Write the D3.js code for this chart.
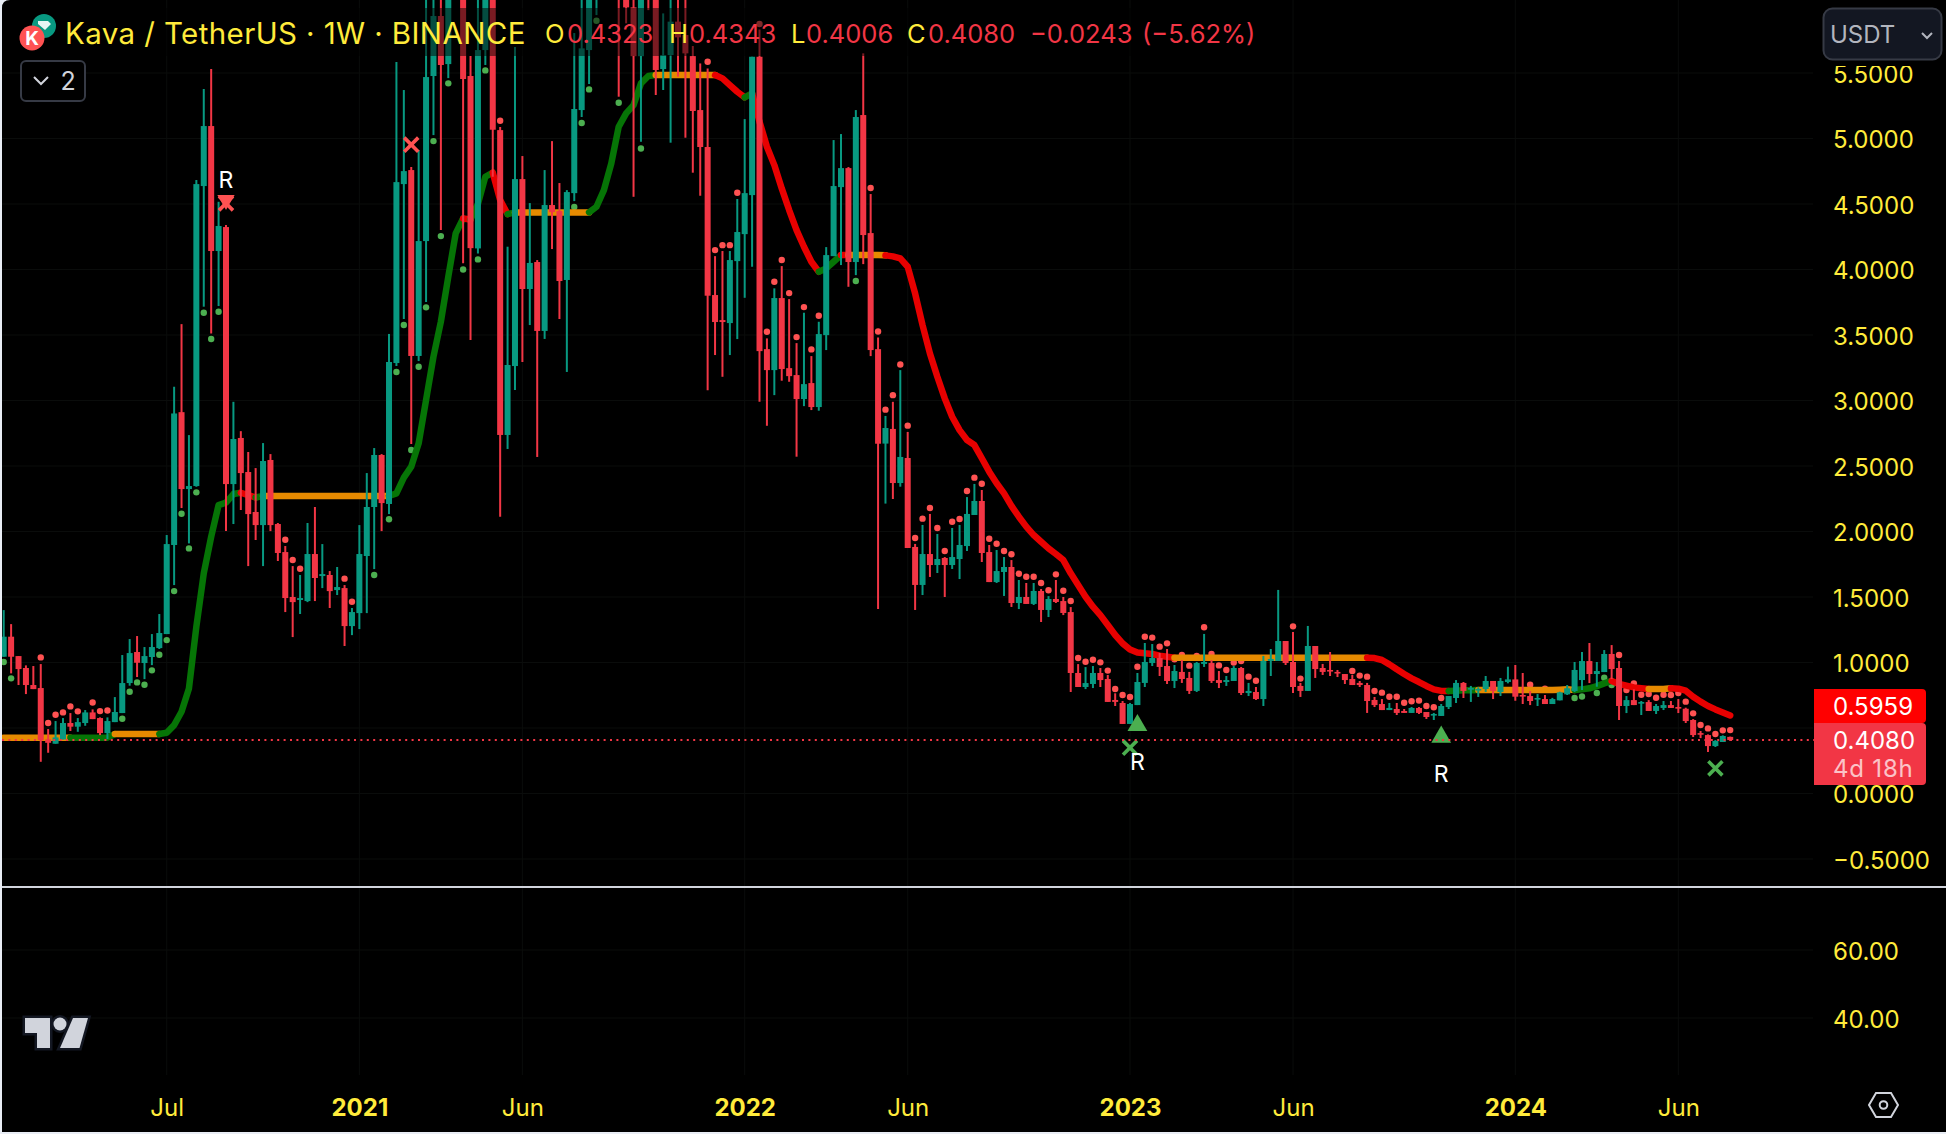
<!DOCTYPE html>
<html><head><meta charset="utf-8">
<style>html,body{margin:0;padding:0;background:#e9edf5;overflow:hidden}svg{display:block}text{font-family:Inter,Roboto,sans-serif}</style>
<script src="https://cdn.jsdelivr.net/npm/d3@7/dist/d3.min.js"></script>
</head><body><svg id="c" width="1946" height="1134"></svg>
<script>
const opens=[1.044,1.197,1.049,.958,.828,.805,.413,.380,.413,.538,
.510,.538,.619,.576,.461,.545,.614,.843,1.080,.996,
1.042,1.110,1.217,1.897,2.911,2.324,2.347,4.637,5.095,4.141,
4.324,2.362,2.714,2.454,2.149,2.049,2.546,2.057,1.843,1.500,
1.477,1.469,1.828,1.660,1.668,1.553,1.568,1.278,1.377,1.813,
2.187,2.584,2.210,3.286,4.652,4.759,3.340,4.217,5.477,5.935,
5.568,6.500,6.300,5.477,4.161,5.675,6.300,5.064,2.737,3.263,
4.690,3.851,4.057,3.531,4.492,4.446,3.920,4.583,5.217,5.675,
6.200,6.600,6.900,6.800,6.400,6.001,5.629,6.500,6.100,5.530,
5.637,5.892,5.790,5.629,5.217,4.935,3.805,3.614,3.591,4.064,
4.270,4.568,5.624,3.392,3.232,3.782,3.247,3.194,3.011,3.133,
2.950,3.499,4.102,4.629,4.774,4.057,5.179,4.278,3.392,2.671,
2.783,2.370,2.561,1.882,1.592,1.828,1.744,1.798,1.744,1.790,
1.889,2.126,2.233,1.843,1.614,1.691,1.729,1.454,1.500,1.447,
1.546,1.401,1.485,1.469,1.385,.920,.813,.836,.920,.874,
.714,.691,.531,.675,.844,.996,1.034,.973,.859,.928,
.882,.783,.989,.996,.866,.851,.859,.958,.767,.775,
.721,1.012,1.012,1.164,1.004,.821,.783,1.126,.958,.943,
.928,.912,.874,.844,.828,.714,.683,.637,.645,.630,
.615,.653,.622,.599,.592,.660,.729,.844,.798,.790,
.798,.859,.775,.851,.871,.752,.744,.721,.721,.683,
.711,.757,.782,.866,1.011,.912,.927,1.065,.958,.668,
.713,.691,.698,.630,.653,.675,.660,.647,.561,.461,
.446,.362,.393,.4323];
const highs=[1.400,1.293,1.049,.978,.973,.988,.492,.553,.576,.614,
.576,.637,.642,.581,.581,.736,1.057,1.179,1.202,1.118,
1.217,1.370,1.973,3.105,3.583,2.736,4.683,5.378,5.530,4.517,
4.339,2.990,2.766,2.607,2.484,2.675,2.591,2.065,1.889,1.736,
1.668,2.065,2.187,1.904,1.698,1.729,1.591,1.416,2.049,2.446,
2.637,2.591,3.508,5.584,5.370,4.782,4.912,6.300,6.400,6.300,
6.400,7.300,6.600,5.630,6.300,6.400,6.600,5.087,4.174,5.698,
4.866,4.507,4.072,4.759,4.980,4.660,4.606,5.805,6.200,6.300,
6.800,7.100,7.400,7.200,6.700,6.300,6.200,6.700,6.400,5.955,
6.100,6.100,6.070,5.706,5.573,5.535,4.102,4.141,4.141,4.538,
5.148,5.624,5.833,3.474,3.856,4.026,3.774,3.438,3.670,3.339,
3.601,4.171,4.988,5.034,4.782,5.217,5.650,4.576,3.481,2.882,
2.990,3.232,2.760,1.905,2.050,2.134,1.981,1.805,2.027,2.050,
2.263,2.363,2.317,1.897,1.859,1.805,1.782,1.630,1.607,1.607,
1.561,1.507,1.630,1.500,1.423,.988,.965,.973,.958,.905,
.765,.706,.691,.920,1.149,1.141,1.073,1.103,.981,1.019,
.928,1.004,1.218,1.019,.935,.897,.973,.966,.844,.813,
1.050,1.103,1.554,1.164,1.233,.844,1.279,1.126,.989,1.080,
.943,.912,.905,.859,.844,.737,.721,.691,.691,.645,
.660,.660,.622,.615,.683,.744,.866,.851,.821,.811,
.897,.859,.882,.968,.981,.920,.782,.759,.752,.730,
.777,.828,1.004,1.080,1.149,1.004,1.095,1.133,1.011,.744,
.795,.706,.713,.683,.706,.706,.721,.655,.568,.477,
.451,.408,.444,.4343];
const lows=[1.044,.917,.828,.759,.797,.242,.311,.380,.413,.477,
.471,.517,.568,.446,.415,.545,.614,.823,.889,.873,
.980,1.103,1.217,1.591,2.179,1.909,2.342,3.716,3.512,3.721,
2.003,2.057,2.164,1.736,1.935,1.736,2.003,1.775,1.385,1.194,
1.370,1.461,1.469,1.568,1.416,1.515,1.126,1.209,1.255,1.377,
1.713,2.003,2.133,3.263,3.622,2.668,3.301,3.752,5.026,4.301,
5.461,6.200,4.047,3.462,4.123,5.561,4.708,2.113,2.630,3.080,
3.294,3.576,2.569,3.470,4.156,3.622,3.218,4.522,5.164,5.416,
5.942,6.300,6.500,5.319,5.879,4.555,4.975,5.980,5.332,5.370,
4.968,5.472,5.006,4.739,4.563,3.079,3.347,3.181,3.347,3.469,
3.784,4.021,2.990,2.807,3.041,3.151,3.143,2.571,2.957,2.927,
2.922,3.385,4.102,4.034,3.868,3.957,4.041,3.339,1.408,2.213,
2.248,2.342,1.874,1.401,1.515,1.653,1.683,1.500,1.714,1.637,
1.851,2.126,1.767,1.614,1.607,1.508,1.424,1.408,1.447,1.439,
1.309,1.347,1.454,1.362,.775,.813,.797,.805,.813,.699,
.668,.531,.531,.675,.813,.973,.897,.836,.805,.844,
.760,.775,.966,.844,.805,.821,.859,.752,.744,.714,
.668,.897,1.012,.981,.767,.737,.783,.882,.905,.897,
.889,.836,.828,.813,.615,.660,.637,.637,.599,.615,
.615,.607,.569,.561,.592,.645,.691,.729,.699,.737,
.775,.721,.744,.841,.708,.683,.675,.668,.683,.683,
.711,.752,.775,.790,.843,.815,.927,.874,.561,.614,
.675,.599,.630,.607,.637,.653,.614,.538,.431,.423,
.317,.355,.393,.4006];
const closes=[1.197,1.044,.950,.828,.797,.408,.387,.428,.538,.510,
.545,.619,.568,.461,.553,.622,.843,1.072,.998,1.049,
1.118,1.225,1.904,2.901,2.324,2.347,4.652,5.095,4.141,4.332,
2.362,2.706,2.446,2.133,2.049,2.538,2.049,1.836,1.492,1.461,
1.492,1.828,1.645,1.675,1.545,1.576,1.278,1.385,1.828,2.187,
2.584,2.217,3.294,4.667,4.751,3.340,4.217,5.469,5.935,5.561,
6.200,6.900,5.454,4.163,5.675,6.200,5.067,2.737,3.271,4.690,
3.851,4.050,3.531,4.492,4.438,3.912,4.591,5.225,5.688,6.100,
6.500,6.900,7.100,6.200,6.001,5.629,6.100,6.200,5.523,5.637,
5.892,5.772,5.650,5.210,4.935,3.800,3.599,3.599,4.072,4.286,
4.583,5.624,3.377,3.232,3.782,3.240,3.186,3.011,3.125,2.950,
3.507,4.110,4.637,4.774,4.057,5.164,4.263,3.385,2.670,2.790,
2.370,2.569,1.874,1.592,1.828,1.744,1.790,1.744,1.805,1.897,
2.134,2.233,1.836,1.614,1.698,1.729,1.454,1.500,1.447,1.546,
1.401,1.485,1.462,1.378,.920,.813,.843,.920,.866,.699,
.699,.531,.683,.851,1.004,1.034,.966,.859,.935,.874,
.783,.996,1.004,.859,.844,.866,.958,.767,.783,.721,
1.012,1.027,1.164,.996,.813,.783,1.126,.950,.928,.935,
.920,.866,.828,.828,.706,.675,.637,.653,.615,.615,
.653,.615,.584,.607,.668,.744,.844,.783,.805,.798,
.859,.783,.859,.871,.739,.744,.706,.729,.683,.721,
.772,.803,.943,1.011,.912,.935,1.065,.950,.668,.713,
.675,.698,.630,.668,.675,.653,.653,.553,.446,.454,
.362,.401,.439,.4080];
const trendLine=[.426,.426,.426,.426,.426,.426,.426,.426,.426,.426,
.426,.426,.426,.426,.426,.454,.454,.454,.454,.454,
.454,.454,.464,.522,.624,.802,1.273,1.680,1.960,2.202,
2.220,2.286,2.296,2.278,2.260,2.271,2.271,2.271,2.271,2.271,
2.271,2.271,2.271,2.271,2.271,2.271,2.271,2.271,2.271,2.271,
2.271,2.271,2.271,2.291,2.411,2.495,2.673,3.004,3.335,3.602,
3.945,4.276,4.390,4.382,4.500,4.708,4.739,4.530,4.423,4.436,
4.436,4.436,4.436,4.436,4.436,4.436,4.436,4.436,4.436,4.436,
4.479,4.606,4.810,5.090,5.192,5.255,5.421,5.477,5.484,5.484,
5.484,5.484,5.484,5.484,5.484,5.484,5.484,5.459,5.408,5.357,
5.314,5.345,5.128,4.937,4.797,4.619,4.454,4.301,4.174,4.059,
3.983,4.008,4.059,4.110,4.110,4.110,4.110,4.110,4.110,4.108,
4.100,4.085,4.021,3.817,3.576,3.359,3.181,3.016,2.876,2.774,
2.698,2.660,2.559,2.457,2.368,2.291,2.195,2.113,2.037,1.973,
1.922,1.871,1.828,1.782,1.681,1.592,1.502,1.426,1.362,1.286,
1.210,1.146,1.100,1.077,1.070,1.065,1.052,1.044,1.037,1.037,
1.037,1.037,1.037,1.037,1.037,1.037,1.037,1.037,1.037,1.037,
1.037,1.037,1.037,1.037,1.037,1.037,1.037,1.037,1.037,1.037,
1.037,1.037,1.037,1.037,1.037,1.034,1.019,.986,.948,.912,
.879,.851,.821,.795,.783,.783,.785,.788,.788,.790,
.790,.790,.790,.790,.790,.790,.790,.790,.790,.790,
.792,.795,.790,.795,.803,.820,.841,.859,.836,.823,
.810,.803,.797,.797,.797,.803,.800,.785,.739,.701,
.668,.642,.619,.5959];
const trendRuns=[[0,9,'o'],[9,15,'g'],[15,21,'o'],[21,32,'g'],[32,34,'r'],[34,35,'g'],[35,52,'o'],[52,62,'g'],[62,63,'r'],[63,66,'g'],[66,68,'r'],[68,69,'g'],[69,79,'o'],[79,88,'g'],[88,96,'o'],[96,100,'r'],[100,101,'g'],[101,110,'r'],[110,113,'g'],[113,114,'r'],[114,119,'o'],[119,158,'r'],[158,184,'o'],[184,195,'r'],[195,199,'g'],[199,212,'o'],[212,217,'g'],[217,222,'r'],[222,225,'o'],[225,233,'r']];
const redDots=[[5,1.039],[6,.538],[7,.601],[8,.619],[9,.665],[10,.627],[12,.695],[13,.629],[14,.634],[38,1.937],[39,1.782],[40,1.716],[46,1.640],[47,1.464],[67,5.136],[95,5.586],[96,4.148],[97,4.186],[98,4.186],[99,4.586],[102,5.874],[103,3.525],[104,3.907],[105,4.072],[106,3.820],[107,3.484],[108,3.713],[109,3.390],[110,3.647],[117,4.622],[118,3.527],[119,2.930],[120,3.041],[121,3.275],[122,2.808],[123,1.950],[124,2.098],[125,2.179],[126,2.027],[127,1.851],[128,2.075],[129,2.095],[130,2.309],[131,2.411],[132,2.365],[133,1.945],[134,1.907],[135,1.851],[136,1.826],[137,1.678],[138,1.655],[139,1.655],[140,1.607],[141,1.551],[142,1.673],[143,1.548],[144,1.469],[145,1.034],[146,1.006],[147,1.021],[148,1.001],[149,.938],[150,.798],[151,.752],[152,.737],[153,.968],[154,1.197],[155,1.190],[156,1.121],[157,1.146],[158,1.024],[159,1.057],[160,.976],[161,1.050],[162,1.269],[163,1.065],[164,.978],[165,.943],[166,1.000],[167,1.011],[168,.892],[169,.861],[174,1.276],[175,.877],[182,.935],[183,.900],[184,.892],[185,.782],[186,.770],[187,.739],[188,.739],[189,.693],[190,.704],[191,.709],[192,.668],[193,.658],[194,.729],[206,.831],[208,.800],[218,1.057],[219,.790],[220,.841],[221,.754],[222,.759],[223,.731],[224,.754],[225,.752],[226,.767],[227,.701],[228,.612],[229,.523],[230,.497],[231,.454],[232,.482],[233,.484]];
const greenDots=[[0,1.004],[1,.879],[16,.571],[17,.777],[18,.848],[19,.830],[20,.940],[21,1.059],[22,1.171],[23,1.545],[24,2.136],[25,1.871],[26,2.299],[27,3.670],[28,3.470],[29,3.677],[50,1.668],[52,2.093],[53,3.217],[54,3.576],[55,2.622],[56,3.258],[57,3.711],[58,4.980],[59,4.255],[60,5.421],[62,4.000],[64,4.077],[65,5.520],[77,4.477],[78,5.118],[79,5.375],[80,5.899],[83,5.273],[86,4.924],[115,3.912],[212,.729],[213,.741],[215,.767],[216,.884],[217,.828]];
const crossMarks=[[55,4.953,'#ff5252'],[30,4.505,'#ff5252'],[152,.350,'#4caf50'],[231,.192,'#4caf50']];
const downMarks=[[30,4.530]];
const upMarks=[[153,.520],[194,.431]];
const rLabels=[[30,4.683],[153,.240],[194,.149]];
const priceTicks=[-.5,0,.5,1,1.5,2,2.5,3,3.5,4,4.5,5,5.5];
const priceLabelTicks=[-.5,0,1,1.5,2,2.5,3,3.5,4,4.5,5,5.5];
const rsiTicks=[40,60];
const timeTicks=['2020-07-06','2021-01-04','2021-06-07','2022-01-03','2022-06-06','2023-01-02','2023-06-05','2024-01-01','2024-06-03'];
const timeLabels=['Jul','2021','Jun','2022','Jun','2023','Jun','2024','Jun'];
const legendParts=[['Kava / TetherUS · 1W · BINANCE',65,'#ffeb3b'],['O',545,'#ffeb3b'],['0.4323',567,'#f23645'],['H',669,'#ffeb3b'],['0.4343',689,'#f23645'],['L',791,'#ffeb3b'],['0.4006',806,'#f23645'],['C',907,'#ffeb3b'],['0.4080',928,'#f23645'],['−0.0243',1030,'#f23645'],['(−5.62%)',1142,'#f23645']];
const lastPrice=.4080, trendLast=.5959, countdown='4d 18h';

const svg=d3.select('#c');
const WEEK=7*864e5, START=Date.UTC(2020,1,3);
const dateOf=i=>new Date(START+i*WEEK);
const x=d3.scaleUtc().domain([dateOf(0),dateOf(233)]).range([3.7,1730.2]);
const xi=i=>x(dateOf(i));
const y=d3.scaleLinear().domain([0,5.5]).range([793.5,73]);
const yRsi=d3.scaleLinear().domain([40,60]).range([1018,950]);
const GRID='#0a0c0b',UP='#089981',DOWN='#f23645',YEL='#ffeb3b',AXX=1833;

const defs=svg.append('defs');
defs.append('clipPath').attr('id','main').append('rect').attr('x',2).attr('y',0).attr('width',1811).attr('height',886);
svg.append('path').attr('fill','#000').attr('d','M2 8Q2 0 10 0H1946V1132H2Z');

// grid
const grid=svg.append('g').attr('stroke',GRID).attr('stroke-width',1);
grid.selectAll('.v').data(timeTicks.map(d=>new Date(d+'T00:00Z'))).join('line').attr('x1',d=>x(d)).attr('x2',d=>x(d)).attr('y1',0).attr('y2',1075);
grid.selectAll('.h').data(priceTicks).join('line').attr('x1',2).attr('x2',1813).attr('y1',d=>y(d)).attr('y2',d=>y(d));
grid.selectAll('.r').data(rsiTicks).join('line').attr('x1',2).attr('x2',1813).attr('y1',d=>yRsi(d)).attr('y2',d=>yRsi(d));

const plot=svg.append('g').attr('clip-path','url(#main)');
// dots
plot.append('g').attr('fill','#ff5252').selectAll('circle').data(redDots).join('circle').attr('cx',d=>xi(d[0])).attr('cy',d=>y(d[1])).attr('r',3.2);
plot.append('g').attr('fill','#4caf50').selectAll('circle').data(greenDots).join('circle').attr('cx',d=>xi(d[0])).attr('cy',d=>y(d[1])).attr('r',3.2);
// trend line
const TC={o:'#e68a00',g:'#067506',r:'#e80000'};
const line=d3.line().x(i=>xi(i)).y(i=>y(trendLine[i]));
plot.append('g').attr('fill','none').attr('stroke-width',6.5).attr('stroke-linecap','round').attr('stroke-linejoin','round')
 .selectAll('path').data(trendRuns).join('path').attr('stroke',d=>TC[d[2]]).attr('d',d=>line(d3.range(d[0],d[1]+1)));
// candles
const idx=d3.range(opens.length);
const col=i=>closes[i]>=opens[i]?UP:DOWN;
const cg=plot.append('g');
cg.selectAll('line').data(idx).join('line').attr('x1',xi).attr('x2',xi).attr('y1',i=>y(highs[i])).attr('y2',i=>y(lows[i])).attr('stroke',col).attr('stroke-width',2);
cg.selectAll('rect').data(idx).join('rect').attr('x',i=>xi(i)-3).attr('width',6)
 .attr('y',i=>y(Math.max(opens[i],closes[i]))).attr('height',i=>Math.max(1.6,Math.abs(y(opens[i])-y(closes[i])))).attr('fill',col);
// markers
const symX=d3.symbol().type(d3.symbolTimes).size(130);
plot.append('g').attr('fill','none').attr('stroke-width',3.6).selectAll('path').data(crossMarks).join('path').attr('d',symX).attr('stroke',d=>d[2])
 .attr('transform',d=>`translate(${xi(d[0])},${y(d[1])})`);
plot.append('g').selectAll('path').data(downMarks).join('path').attr('d',d3.symbol().type(d3.symbolTriangle).size(130)).attr('fill','#ff5252')
 .attr('transform',d=>`translate(${xi(d[0])},${y(d[1])}) rotate(180)`);
plot.append('g').selectAll('path').data(upMarks).join('path').attr('d',d3.symbol().type(d3.symbolTriangle).size(170)).attr('fill','#4caf50')
 .attr('transform',d=>`translate(${xi(d[0])},${y(d[1])})`);
plot.append('g').selectAll('text').data(rLabels).join('text').text('R').attr('fill','#fff').attr('font-size',23).attr('text-anchor','middle').attr('dy','.36em')
 .attr('x',d=>xi(d[0])).attr('y',d=>y(d[1]));
// last price line
svg.append('line').attr('x1',2).attr('x2',1814).attr('y1',y(lastPrice)).attr('y2',y(lastPrice)).attr('stroke',DOWN).attr('stroke-width',2).attr('stroke-dasharray','2 4.4');
// pane divider
svg.append('rect').attr('x',2).attr('y',886).attr('width',1944).attr('height',2).attr('fill','#d1d4dc');

// legend backdrop + text
svg.append('rect').attr('x',60).attr('y',8).attr('width',1200).attr('height',48).attr('fill','rgba(0,0,0,.5)');
const lg=svg.append('g').attr('font-size',25.5);
lg.selectAll('text').data(legendParts).join('text').text(d=>d[0]).attr('x',d=>d[1]).attr('y',43).attr('fill',d=>d[2]);
lg.select('text').attr('font-size',29.5).attr('letter-spacing',.4).attr('y',44);
// symbol icon
svg.append('circle').attr('cx',44).attr('cy',26).attr('r',12).attr('fill','#089981');
svg.append('path').attr('d','M38 21h10l3 3-6 6-7-6z').attr('fill','#fff').attr('opacity',.9);
svg.append('circle').attr('cx',32).attr('cy',38).attr('r',12.5).attr('fill','#ff5252');
svg.append('text').text('K').attr('x',32).attr('y',45).attr('text-anchor','middle').attr('fill','#fff').attr('font-size',19).attr('font-weight',700);
// collapse button
svg.append('rect').attr('x',21).attr('y',61).attr('width',64).attr('height',40).attr('rx',5).attr('fill','#000').attr('stroke','#363a45').attr('stroke-width',2);
svg.append('path').attr('d','M34 77l7 7 7-7').attr('fill','none').attr('stroke','#d1d4dc').attr('stroke-width',2);
svg.append('text').text('2').attr('x',68).attr('y',90).attr('text-anchor','middle').attr('fill','#d1d4dc').attr('font-size',25);

// axes
const fmtP=d3.format('.4f');
const ax=svg.append('g').attr('transform',`translate(${AXX},0)`).call(d3.axisRight(y).tickValues(priceLabelTicks).tickSize(0).tickPadding(0).tickFormat(fmtP));
const ax2=svg.append('g').attr('transform',`translate(${AXX},0)`).call(d3.axisRight(yRsi).tickValues(rsiTicks).tickSize(0).tickPadding(0).tickFormat(d3.format('.2f')));
[ax,ax2].forEach(a=>{a.select('.domain').remove();a.selectAll('text').attr('fill',YEL).attr('font-size',24).attr('font-family','Inter,Roboto,sans-serif').attr('text-anchor','start').attr('dy','.38em')});
const tx=svg.append('g').attr('transform','translate(0,1098.5)').call(d3.axisBottom(x).tickValues(timeTicks.map(d=>new Date(d+'T00:00Z'))).tickSize(0).tickPadding(0).tickFormat((d,i)=>timeLabels[i]));
tx.select('.domain').remove();
tx.selectAll('text').attr('fill',YEL).attr('font-size',24).attr('font-family','Inter,Roboto,sans-serif').attr('font-weight',(d,i)=>/^\d/.test(timeLabels[i])?700:400);
// USDT button (with the dark halo that crops the top axis label)
svg.append('rect').attr('x',1819).attr('y',0).attr('width',127).attr('height',66).attr('fill','#000');
svg.append('rect').attr('x',1823.5).attr('y',8.5).attr('width',118).attr('height',51).attr('rx',9).attr('fill','#131722').attr('stroke','#363a45').attr('stroke-width',2);
svg.append('text').text('USDT').attr('x',1830).attr('y',43).attr('fill','#b2b5be').attr('font-size',24);
svg.append('path').attr('d','M1922 33l5 5 5-5').attr('fill','none').attr('stroke','#b2b5be').attr('stroke-width',2);
// price labels
svg.append('path').attr('d','M1814 689H1922Q1926 689 1926 693V719Q1926 723 1922 723H1814Z').attr('fill','#ff0000');
svg.append('path').attr('d','M1814 723H1922Q1926 723 1926 727V781Q1926 785 1922 785H1814Z').attr('fill',DOWN);
svg.append('text').text(fmtP(trendLast)).attr('x',AXX).attr('y',715).attr('fill','#fff').attr('font-size',24);
svg.append('text').text(fmtP(lastPrice)).attr('x',AXX).attr('y',749).attr('fill','#fff').attr('font-size',24);
svg.append('text').text(countdown).attr('x',AXX).attr('y',777).attr('fill','#fff').attr('opacity',.7).attr('font-size',24).attr('letter-spacing',.8);
// logo
const logo=svg.append('g').attr('fill','#d1d4dc').attr('stroke','#131722').attr('stroke-width',5).attr('paint-order','stroke');
logo.append('path').attr('d','M25 1018H50V1048H37V1033H25Z');
logo.append('ellipse').attr('cx',60).attr('cy',1024).attr('rx',6.5).attr('ry',6.5);
logo.append('path').attr('d','M73 1018H88L79.5 1048H60Z');
// settings hexagon
svg.append('path').attr('d','M1876 1093H1891L1898 1105L1891 1117H1876L1869 1105Z').attr('fill','none').attr('stroke','#d1d4dc').attr('stroke-width',2);
svg.append('circle').attr('cx',1883.5).attr('cy',1105).attr('r',3.8).attr('fill','none').attr('stroke','#d1d4dc').attr('stroke-width',2);
</script></body></html>
